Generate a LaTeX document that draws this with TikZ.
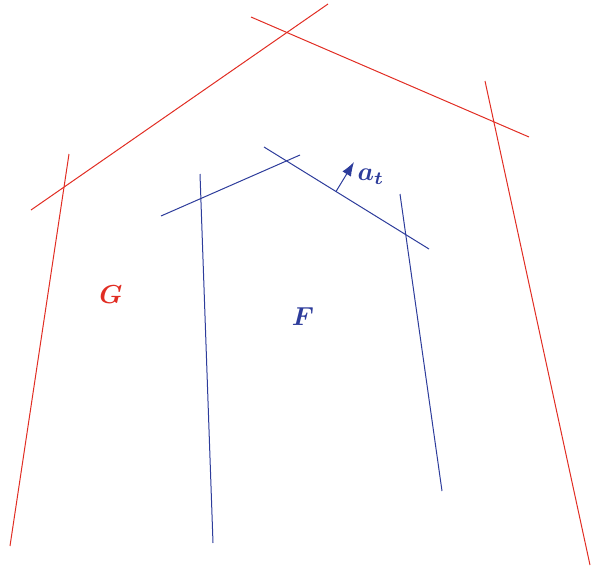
\documentclass[tikz,border=0pt]{standalone}
\usepackage{amsmath,bm,graphicx}
\usetikzlibrary{arrows.meta}
\definecolor{rd}{RGB}{225,45,35}
\definecolor{bl}{RGB}{45,60,155}
\newcommand{\biglab}[1]{\scalebox{2.6}{#1}}
\begin{document}
\begin{tikzpicture}[x=1pt,y=-1pt,
  redline/.style={rd,line width=1pt},
  blueline/.style={bl,line width=1pt},
  lab/.style={inner sep=0pt}]
\useasboundingbox (0,0) rectangle (592,570);
% red
\coordinate (r1a) at (31,210); \coordinate (r1b) at (328,4);
\coordinate (r2a) at (251,17); \coordinate (r2b) at (529,137);
\coordinate (r3a) at (69,154); \coordinate (r3b) at (10,546);
\coordinate (r4a) at (485,81); \coordinate (r4b) at (590,565);
\draw[redline] (r1a) -- (r1b);
\draw[redline] (r2a) -- (r2b);
\draw[redline] (r3a) -- (r3b);
\draw[redline] (r4a) -- (r4b);
% blue
\coordinate (b1a) at (161,216); \coordinate (b1b) at (300,155);
\coordinate (b2a) at (264,147); \coordinate (b2b) at (429,249);
\coordinate (b3a) at (200,174); \coordinate (b3b) at (213,543);
\coordinate (b4a) at (400,194); \coordinate (b4b) at (442,491);
\draw[blueline] (b1a) -- (b1b);
\draw[blueline] (b2a) -- (b2b);
\draw[blueline] (b3a) -- (b3b);
\draw[blueline] (b4a) -- (b4b);
% arrow
\coordinate (as) at (336,191.5); \coordinate (ae) at (354,162);
\draw[blueline,-{Latex[length=14pt,width=10pt]}] (as) -- (ae);
% labels
\node[lab,text=bl] (at) at (371,177) {\biglab{$\bm{a}_{\bm{t}}$}};
\node[lab,text=rd] (G) at (111,295) {\biglab{$\bm{G}$}};
\node[lab,text=bl] (F) at (303,317) {\biglab{$\bm{F}$}};
\end{tikzpicture}
\end{document}
